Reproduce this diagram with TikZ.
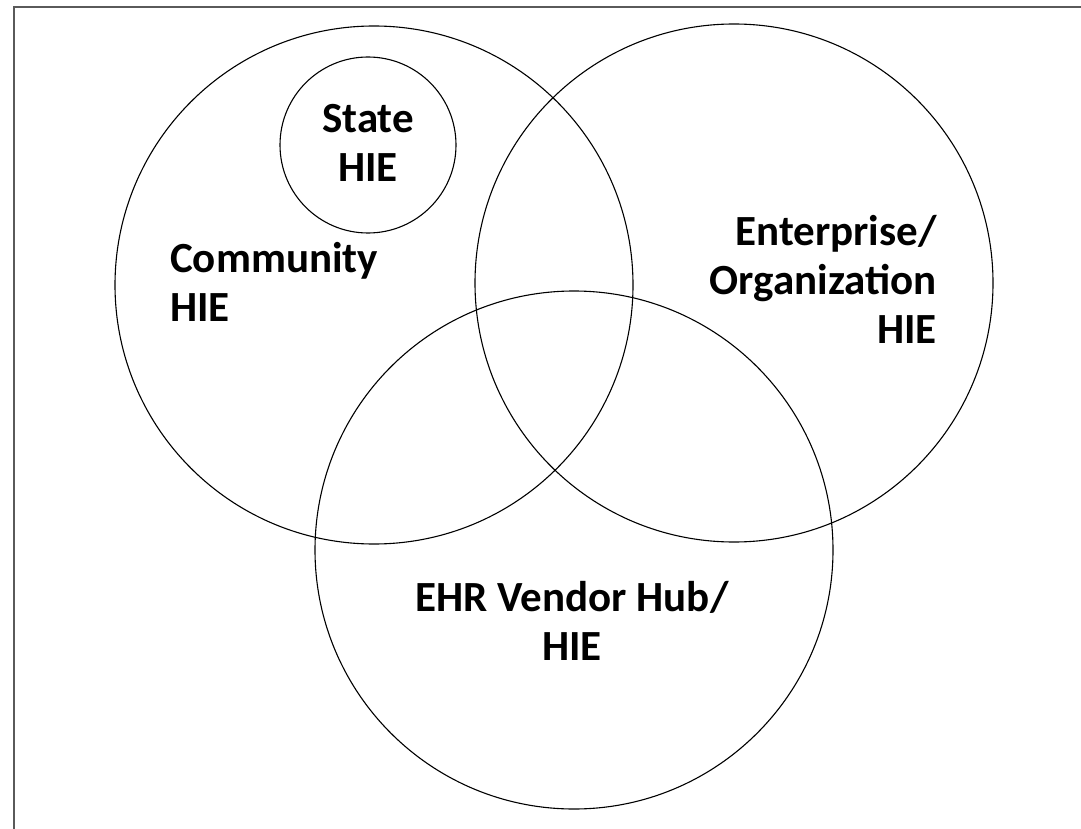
\documentclass[tikz,border=0pt]{standalone}
\usepackage{fontspec}
\setmainfont{Carlito}
\usepackage{tikz}
\usetikzlibrary{positioning}

\definecolor{framegray}{HTML}{5A5A5A}

\tikzset{
  venn/.style={draw, circle, line width=1.1pt, inner sep=0pt, minimum size=#1},
  lbl/.style={inner sep=0pt, font=\fontsize{43}{49}\selectfont\bfseries}
}

\begin{document}
\begin{tikzpicture}[x=1pt, y=-1pt]
  \useasboundingbox (0,0) rectangle (1081,829);

  % frame, cut by the page edge on the right and bottom
  \begin{scope}
    \clip (0,0) rectangle (1081,829);
    \draw[framegray, line width=2pt] (14,7) rectangle (1200,900);
  \end{scope}

  % the three big circles
  \node[venn=518pt] (community) at (374,285) {};
  \node[venn=518pt] (enterprise) at (734,283) {};
  \node[venn=518pt] (vendor) at (574,550) {};
  % small circle inside the community circle
  \node[venn=176pt] (state) at (368,145) {};

  % labels (base = baseline of the last line)
  \node[lbl, align=center, anchor=base] (statelbl) at (368,182) {State\\HIE};
  \node[lbl, align=left, anchor=base west] (communitylbl) at (170,321) {Community\\HIE};
  \node[lbl, align=right, anchor=base east] (enterpriselbl) at (937,343) {Enterprise/\\Organization\\HIE};
  \node[lbl, align=center, anchor=base] (vendorlbl) at (572,660) {EHR Vendor Hub/\\HIE};
\end{tikzpicture}
\end{document}
